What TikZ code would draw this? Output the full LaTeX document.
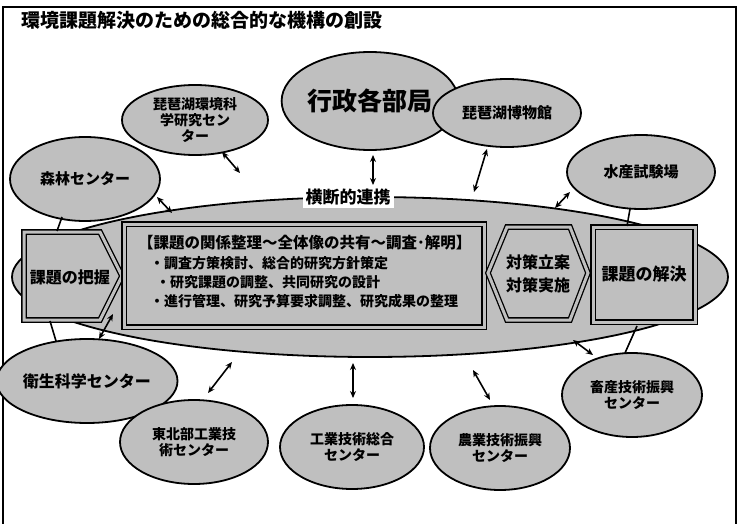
\documentclass[tikz,border=0pt]{standalone}
\usepackage{fontspec}
\setmainfont{Noto Sans CJK JP}
\usetikzlibrary{shapes.geometric,arrows.meta}
\begin{document}
\begin{tikzpicture}[x=1pt,y=-1pt,
  org/.style={ellipse,draw,line width=1.8pt,fill=gray!50,inner sep=0pt,align=center,font=\fontsize{14}{16}\selectfont\bfseries},
  dbl/.style={draw,line width=1.3pt,double=gray!50,double distance=3pt,fill=gray!50},
  lbl/.style={inner sep=0pt,align=center},
  link/.style={line width=1.6pt,{Stealth[length=7pt,width=6pt]}-{Stealth[length=7pt,width=6pt]}},
  tick/.style={line width=1.6pt}]
\useasboundingbox (0,0) rectangle (742,524);
% frame
\draw[line width=2pt] (3,524) -- (3,7) -- (736,7) -- (736,524);
\node[anchor=west,inner sep=0pt,font=\fontsize{19}{19}\selectfont\bfseries] (title) at (21,20) {環境課題解決のための総合的な機構の創設};

% big ellipse
\node[ellipse,draw,line width=1.8pt,fill=gray!50,minimum width=716pt,minimum height=160pt,inner sep=0pt] (big) at (370,277) {};
\node[fill=white,inner sep=3pt,font=\fontsize{17}{17}\selectfont\bfseries] (renkei) at (348,197) {横断的連携};

% left box (chevron)
\draw[dbl] (24,232) -- (100,232) -- (122,276) -- (100,320) -- (24,320) -- cycle;
\node[lbl,font=\fontsize{16}{16}\selectfont\bfseries] (haaku) at (70,277) {課題の把握};

% centre box
\node[dbl,minimum width=360pt,minimum height=103pt,inner sep=0pt] (kankei) at (304,275.5) {};
\node[lbl,anchor=west,font=\fontsize{15.5}{15.5}\selectfont\bfseries] (t1) at (138,243) {【課題の関係整理～全体像の共有～調査･解明】};
\node[lbl,anchor=west,font=\fontsize{14}{14}\selectfont\bfseries] (t2) at (150,263) {・調査方策検討、総合的研究方針策定};
\node[lbl,anchor=west,font=\fontsize{14}{14}\selectfont\bfseries] (t3) at (156,282) {・研究課題の調整、共同研究の設計};
\node[lbl,anchor=west,font=\fontsize{14}{14}\selectfont\bfseries] (t4) at (150,301) {・進行管理、研究予算要求調整、研究成果の整理};

% hexagon
\draw[dbl] (488,273) -- (507,227) -- (570,227) -- (588,273) -- (570,320) -- (507,320) -- cycle;
\node[lbl,font=\fontsize{16}{23}\selectfont\bfseries] (taisaku) at (538,274) {対策立案\\対策実施};

% right box
\node[dbl,minimum width=102pt,minimum height=95pt,inner sep=0pt,font=\fontsize{17}{17}\selectfont\bfseries] (kaiketsu) at (644,274.5) {課題の解決};

% surrounding organisations
\node[org,minimum width=164pt,minimum height=98pt,font=\fontsize{25}{25}\selectfont\bfseries] (gyosei) at (370,101) {行政各部局};
\node[org,minimum width=146pt,minimum height=70pt] (kankyo) at (195,120) {琵琶湖環境科\\学研究セン\\ター};
\node[org,minimum width=148pt,minimum height=68pt,font=\fontsize{15}{16}\selectfont\bfseries] (hakubutsu) at (507,113) {琵琶湖博物館};
\node[org,minimum width=148pt,minimum height=74pt,font=\fontsize{15}{16}\selectfont\bfseries] (suisan) at (641,172) {水産試験場};
\node[org,minimum width=150pt,minimum height=84pt,font=\fontsize{15}{16}\selectfont\bfseries] (shinrin) at (85,179) {森林センター};
\node[org,minimum width=146pt,minimum height=84pt,font=\fontsize{16}{16}\selectfont\bfseries] (eisei) at (87,381) {衛生科学センター};
\node[org,minimum width=148pt,minimum height=84pt] (tohoku) at (194,442) {東北部工業技\\術センター};
\node[org,minimum width=144pt,minimum height=84pt] (kogyo) at (352,447) {工業技術総合\\センター};
\node[org,minimum width=140pt,minimum height=84pt] (nogyo) at (500,448) {農業技術振興\\センター};
\node[org,minimum width=140pt,minimum height=84pt] (chikusan) at (632,395) {畜産技術振興\\センター};

% connector end points
\coordinate (g1) at (373,155); \coordinate (g2) at (373,185);
\coordinate (k1) at (222,152); \coordinate (k2) at (240,173);
\coordinate (h1) at (487,149); \coordinate (h2) at (474,192);
\coordinate (s1) at (570,192); \coordinate (s2) at (555,208);
\coordinate (s3) at (630,209); \coordinate (s4) at (627,226);
\coordinate (r1) at (157,197); \coordinate (r2) at (172,213);
\coordinate (r3) at (62,217);  \coordinate (r4) at (57,231);
\coordinate (e1) at (113,314); \coordinate (e2) at (99,339);
\coordinate (e3) at (50,321);  \coordinate (e4) at (56,341);
\coordinate (o1) at (232,362); \coordinate (o2) at (208,393);
\coordinate (i1) at (353,363); \coordinate (i2) at (353,398);
\coordinate (n1) at (473,370); \coordinate (n2) at (490,400);
\coordinate (c1) at (573,340); \coordinate (c2) at (593,355);
\coordinate (c3) at (637,326); \coordinate (c4) at (625,353);

\draw[link] (g1) -- (g2);
\draw[link] (k1) -- (k2);
\draw[link] (h1) -- (h2);
\draw[link] (s1) -- (s2);
\draw[tick] (s3) -- (s4);
\draw[link] (r1) -- (r2);
\draw[tick] (r3) -- (r4);
\draw[link] (e1) -- (e2);
\draw[tick] (e3) -- (e4);
\draw[link] (o1) -- (o2);
\draw[link] (i1) -- (i2);
\draw[link] (n1) -- (n2);
\draw[link] (c1) -- (c2);
\draw[tick] (c3) -- (c4);
\end{tikzpicture}
\end{document}
